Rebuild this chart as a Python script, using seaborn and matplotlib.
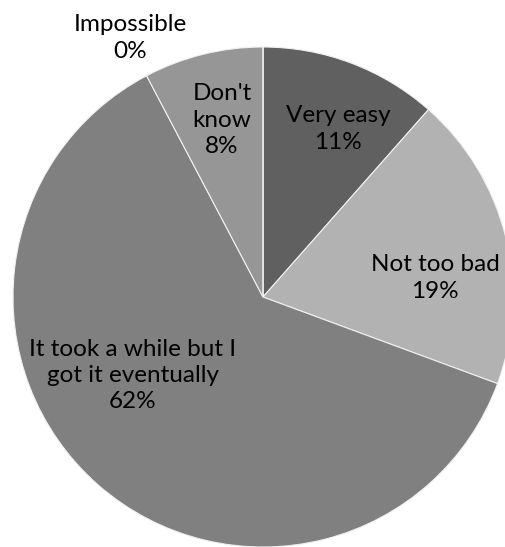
import matplotlib
matplotlib.use("Agg")
import matplotlib.pyplot as plt
import seaborn as sns

categories = ["Very easy", "Not too bad", "It took a while but I\ngot it eventually", "Don't\nknow", "Impossible"]
values = [11.5, 19.1, 61.6, 7.7, 0.0]
pct_labels = ["11%", "19%", "62%", "8%", "0%"]
colors = ["#606060", "#b2b2b2", "#808080", "#969696", "#505050"]

sns.set_theme(style="white")
plt.rcParams['font.family'] = ['Lato', 'DejaVu Sans']

W, H = 506, 547
fig = plt.figure(figsize=(W / 100, H / 100), dpi=100)
cx, cy, R = 263, 297, 250
ax = fig.add_axes([(cx - R) / W, (H - cy - R) / H, 2 * R / W, 2 * R / H])
ax.pie(values, colors=colors, startangle=90, counterclock=False,
       wedgeprops=dict(edgecolor="#f0f0f0", linewidth=0.8))
ax.set_xlim(-1, 1)
ax.set_ylim(-1, 1)
ax.set_aspect("equal")
ax.axis("off")

label_pos = [(0.30, 0.672), (0.688, 0.076), (-0.52, -0.315), (-0.164, 0.708), (-0.532, 1.036)]
for cat, pct, (x, y) in zip(categories, pct_labels, label_pos):
    ax.text(x, y, f"{cat}\n{pct}", ha="center", va="center", fontsize=17.5,
            color="#000000", linespacing=1.3, clip_on=False)

fig.savefig("out.png", dpi=100, facecolor="white")
